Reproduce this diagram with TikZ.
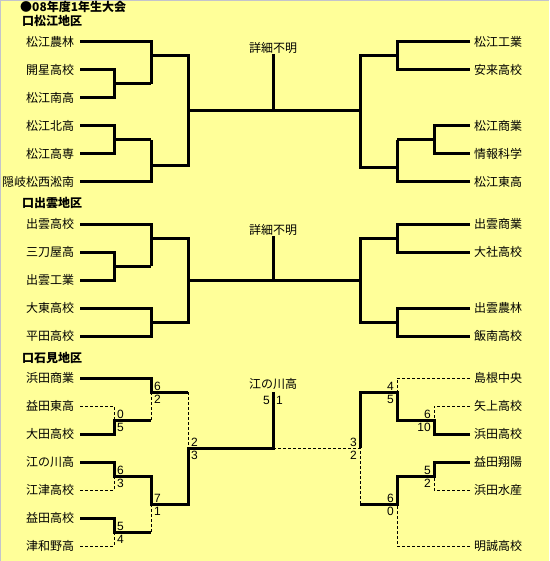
\documentclass[tikz,border=0pt]{standalone}
\usepackage{fontspec}
\setmainfont{Noto Sans CJK JP}
\newfontfamily\digitfont{Liberation Sans}
\definecolor{bg}{HTML}{FFFF99}
\definecolor{edgecol}{HTML}{C4C4CC}
\begin{document}
\begin{tikzpicture}[x=1pt,y=-1pt,
  team/.style={anchor=east,inner sep=0pt,outer xsep=6pt,font=\fontsize{12}{12}\selectfont},
  teamr/.style={anchor=west,inner sep=0pt,outer xsep=4pt,font=\fontsize{12}{12}\selectfont},
  head/.style={anchor=west,inner sep=0pt,font=\bfseries\fontsize{12}{12}\selectfont},
  mid/.style={inner sep=0pt,font=\fontsize{12}{12}\selectfont},
  win/.style={line width=3pt},
  lose/.style={line width=1pt,dash pattern=on 3pt off 2pt},
  scl/.style={anchor=base west,inner sep=0pt,font=\digitfont\fontsize{12}{12}\selectfont},
  scr/.style={anchor=base east,inner sep=0pt,font=\digitfont\fontsize{12}{12}\selectfont}]
\useasboundingbox (0,0) rectangle (549,561);
\fill[bg] (0,0) rectangle (549,561);
\draw[edgecol,line width=1pt] (0.5,561) -- (0.5,0.5) -- (549,0.5);

% headings
\node[head] (title) at (20,7) {●08年度1年生大会};
\node[head] (h1) at (22,21) {口松江地区};
\node[head] (h2) at (22,203) {口出雲地区};
\node[head] (h3) at (22,358) {口石見地区};

% ---------- Matsue ----------
\node[team] (a1) at (80,42) {松江農林};
\node[team] (a2) at (80,70) {開星高校};
\node[team] (a3) at (80,98) {松江南高};
\node[team] (a4) at (80,126) {松江北高};
\node[team] (a5) at (80,154) {松江高専};
\node[team] (a6) at (80,182) {隠岐松西淞南};
\node[teamr] (b1) at (470,42) {松江工業};
\node[teamr] (b2) at (470,70) {安来高校};
\node[teamr] (b3) at (470,126) {松江商業};
\node[teamr] (b4) at (470,154) {情報科学};
\node[teamr] (b5) at (470,182) {松江東高};
\node[mid] (m1) at (273,48) {詳細不明};

\draw[win] (a2.east) -- (114,70) -- (114,98) -- (a3.east);
\draw[win] (114,84) -- (151,84);
\draw[win] (a1.east) -- (151,42) -- (151,84);
\draw[win] (a4.east) -- (114,126) -- (114,154) -- (a5.east);
\draw[win] (114,140) -- (151,140);
\draw[win] (a6.east) -- (151,182) -- (151,140);
\draw[win] (151,56) -- (188,56) -- (188,166) -- (151,166);
\draw[win] (188,111) -- (360,111);
\draw[win] (273,111) -- (m1.south);
\draw[win] (b1.west) -- (397,42) -- (397,70) -- (b2.west);
\draw[win] (b3.west) -- (434,126) -- (434,154) -- (b4.west);
\draw[win] (434,140) -- (397,140);
\draw[win] (b5.west) -- (397,182) -- (397,140);
\draw[win] (397,56) -- (360,56) -- (360,168) -- (397,168);

% ---------- Izumo ----------
\node[team] (c1) at (80,224) {出雲高校};
\node[team] (c2) at (80,252) {三刀屋高};
\node[team] (c3) at (80,280) {出雲工業};
\node[team] (c4) at (80,308) {大東高校};
\node[team] (c5) at (80,336) {平田高校};
\node[teamr] (d1) at (470,224) {出雲商業};
\node[teamr] (d2) at (470,252) {大社高校};
\node[teamr] (d3) at (470,308) {出雲農林};
\node[teamr] (d4) at (470,336) {飯南高校};
\node[mid] (m2) at (273,230) {詳細不明};

\draw[win] (c2.east) -- (114,252) -- (114,280) -- (c3.east);
\draw[win] (114,266) -- (151,266);
\draw[win] (c1.east) -- (151,224) -- (151,266);
\draw[win] (c4.east) -- (151,308) -- (151,336) -- (c5.east);
\draw[win] (151,238) -- (188,238) -- (188,322) -- (151,322);
\draw[win] (188,280) -- (360,280);
\draw[win] (273,280) -- (m2.south);
\draw[win] (d1.west) -- (397,224) -- (397,252) -- (d2.west);
\draw[win] (d3.west) -- (397,308) -- (397,336) -- (d4.west);
\draw[win] (397,238) -- (360,238) -- (360,322) -- (397,322);

% ---------- Iwami ----------
\node[team] (e1) at (80,378) {浜田商業};
\node[team] (e2) at (80,406) {益田東高};
\node[team] (e3) at (80,434) {大田高校};
\node[team] (e4) at (80,462) {江の川高};
\node[team] (e5) at (80,490) {江津高校};
\node[team] (e6) at (80,518) {益田高校};
\node[team] (e7) at (80,546) {津和野高};
\node[teamr] (f1) at (470,378) {島根中央};
\node[teamr] (f2) at (470,406) {矢上高校};
\node[teamr] (f3) at (470,434) {浜田高校};
\node[teamr] (f4) at (470,462) {益田翔陽};
\node[teamr] (f5) at (470,490) {浜田水産};
\node[teamr] (f6) at (470,546) {明誠高校};
\node[mid] (m3) at (273,384) {江の川高};

% losers (dashed)
\draw[lose] (e2.east) -- (114,406) -- (114,420);
\draw[lose] (151,420) -- (151,392);
\draw[lose] (188,392) -- (188,448);
\draw[lose] (e5.east) -- (114,490) -- (114,476);
\draw[lose] (e7.east) -- (114,546) -- (114,532);
\draw[lose] (151,532) -- (151,504);
\draw[lose] (273,448) -- (360,448) -- (360,504);
\draw[lose] (f1.west) -- (397,378) -- (397,392);
\draw[lose] (f2.west) -- (434,406) -- (434,420);
\draw[lose] (f5.west) -- (434,490) -- (434,476);
\draw[lose] (f6.west) -- (397,546) -- (397,504);

% winners (thick)
\draw[win] (e1.east) -- (151,378) -- (151,392) -- (188,392);
\draw[win] (e3.east) -- (114,434) -- (114,420) -- (151,420);
\draw[win] (e4.east) -- (114,462) -- (114,476) -- (151,476) -- (151,504) -- (188,504) -- (188,448) -- (273,448) -- (273,392);
\draw[win] (e6.east) -- (114,518) -- (114,532) -- (151,532);
\draw[win] (f3.west) -- (434,434) -- (434,420) -- (397,420) -- (397,392) -- (360,392) -- (360,448);
\draw[win] (f4.west) -- (434,462) -- (434,476) -- (397,476) -- (397,504) -- (360,504);

% scores left
\node[scl] at (154,390) {6};  \node[scl] at (154,403) {2};
\node[scl] at (117,418) {0};  \node[scl] at (117,431) {5};
\node[scl] at (117,474) {6};  \node[scl] at (117,487) {3};
\node[scl] at (154,502) {7};  \node[scl] at (154,515) {1};
\node[scl] at (117,530) {5};  \node[scl] at (117,543) {4};
\node[scl] at (191,446) {2};  \node[scl] at (191,459) {3};
% scores right
\node[scr] at (394,390) {4};  \node[scr] at (394,403) {5};
\node[scr] at (431,418) {6};  \node[scr] at (431,431) {10};
\node[scr] at (431,474) {5};  \node[scr] at (431,487) {2};
\node[scr] at (394,502) {6};  \node[scr] at (394,515) {0};
\node[scr] at (357,446) {3};  \node[scr] at (357,459) {2};
% final
\node[scr] at (270,404) {5};  \node[scl] at (276,404) {1};
\end{tikzpicture}
\end{document}
